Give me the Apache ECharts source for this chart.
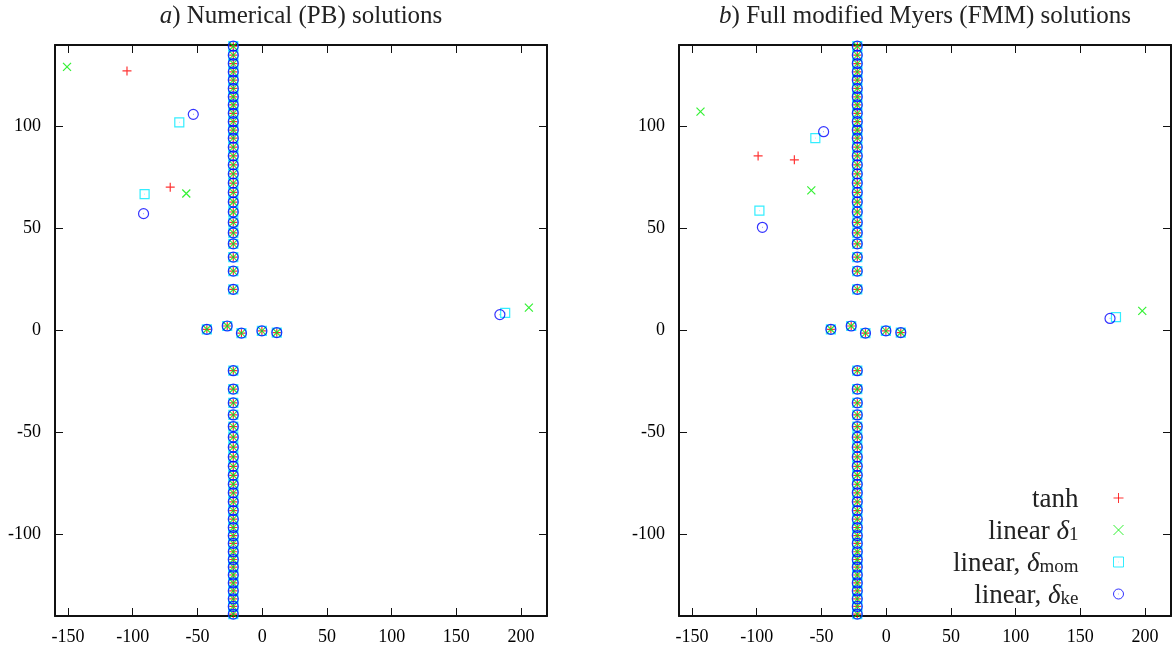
<!DOCTYPE html>
<html>
<head>
<meta charset="utf-8">
<script src="https://cdn.jsdelivr.net/npm/echarts@6/dist/echarts.min.js"></script>
<style>
html,body{margin:0;padding:0;background:#fff;}
#chart{width:1174px;height:654px;}
</style>
</head>
<body>
<div id="chart"></div>
<script>
// ---- data ----
const xTickValues = [-150, -100, -50, 0, 50, 100, 150, 200];
const yTickValues = [-100, -50, 0, 50, 100];
const seriesNames = ['tanh', 'linear δ1', 'linear, δmom', 'linear, δke'];
const panelTitles = ['Numerical (PB) solutions', 'Full modified Myers (FMM) solutions'];
const panelLetters = ['a', 'b'];

// vertical column of roots shared by all four models (x ≈ -22)
const columnX = -22.3;
const columnY = [20.2, 29.1, 36, 42.5, 47.9, 53, 58.1, 63, 67.7, 72.3, 76.8, 81.2, 85.6, 89.9,
  94.3, 98.3, 102.4, 106.5, 110.6, 114.6, 118.7, 122.8, 126.8, 130.9, 135, 139.4,
  -19.7, -28.7, -35.5, -41.4, -47.1, -52.3, -57.2, -62, -66.6, -71, -75.4, -79.6, -84,
  -88.3, -92.5, -96.6, -100.6, -104.4, -108.5, -112.3, -116, -119.9, -123.8, -127.7,
  -131.6, -135.3, -139.1];
// roots close to the real axis shared by all models
const nearAxis = [[-42.7, 0.6], [-27, 2.2], [-16, -1.3], [-0.2, -0.2], [11.3, -1]];

// panel a) outliers
const pbTanh = [[-104.4, 127.3], [-71, 70.3]];
const pbLinD1 = [[-150.7, 129.3], [-58.6, 67.2], [206, 11.2]];
const pbLinMom = [[-64, 102.1], [-90.8, 66.9], [187.7, 8.6]];
const pbLinKe = [[-53.2, 106], [-91.6, 57.3], [183.6, 7.8]];
// panel b) outliers
const fmmTanh = [[-98.9, 85.6], [-70.9, 83.7]];
const fmmLinD1 = [[-143.4, 107.3], [-57.8, 68.7], [197.8, 9.6]];
const fmmLinMom = [[-54.7, 94.3], [-97.9, 58.8], [177.5, 6.6]];
const fmmLinKe = [[-48.3, 97.5], [-95.6, 50.6], [172.9, 5.9]];

// ---- styling ----
const FONT = 'Liberation Serif';
const colors = ['#ff0000', '#00ee00', '#00e8ff', '#0000ff'];
const symbols = [
  'path://M5,0L5,10M0,5L10,5',
  'path://M0,0L10,10M10,0L0,10',
  'path://M0,0L10,0L10,10L0,10ZM4.8,5L5.2,5',
  'path://M0,5A5,5 0 1,0 10,5A5,5 0 1,0 0,5ZM4.8,5L5.2,5'
];
const sizes = [9, 8, 9, 10];

const columnPts = columnY.map(y => [columnX, y]);
const shared = columnPts.concat(nearAxis);
const panelData = [
  [pbTanh, pbLinD1, pbLinMom, pbLinKe],
  [fmmTanh, fmmLinD1, fmmLinMom, fmmLinKe]
];

const grids = [
  {left: 55, top: 45, width: 492, height: 571},
  {left: 679, top: 45, width: 492, height: 571}
];

function xAx(gi, pos, showLabels) {
  return {
    type: 'value', gridIndex: gi, position: pos, min: -160, max: 220,
    axisLine: {show: true, onZero: false, lineStyle: {color: '#111', width: 2}},
    axisTick: {show: true, inside: true, length: 8, customValues: xTickValues, lineStyle: {color: '#111', width: 1}},
    axisLabel: {show: showLabels, customValues: xTickValues, margin: 12, fontSize: 18, color: '#000', fontFamily: FONT},
    splitLine: {show: false}
  };
}
function yAx(gi, pos, showLabels) {
  return {
    type: 'value', gridIndex: gi, position: pos, min: -140, max: 140,
    axisLine: {show: true, onZero: false, lineStyle: {color: '#111', width: 2}},
    axisTick: {show: true, inside: true, length: 8, customValues: yTickValues, lineStyle: {color: '#111', width: 1}},
    axisLabel: {show: showLabels, customValues: yTickValues, margin: 14, fontSize: 18, color: '#000', fontFamily: FONT},
    splitLine: {show: false}
  };
}

const series = [];
for (let p = 0; p < 2; p++) {
  for (let s = 0; s < 4; s++) {
    series.push({
      type: 'scatter', name: seriesNames[s],
      xAxisIndex: p * 2, yAxisIndex: p * 2,
      data: shared.concat(panelData[p][s]),
      symbol: symbols[s], symbolSize: sizes[s],
      itemStyle: {color: 'rgba(0,0,0,0)', borderColor: colors[s], borderWidth: 1.2},
      silent: true, animation: false
    });
  }
}

const legendRich = {
  t: {fontSize: 27, fontFamily: FONT, color: '#222', lineHeight: 30, verticalAlign: 'bottom'},
  g: {fontSize: 27, fontFamily: FONT, fontStyle: 'italic', color: '#222', lineHeight: 30, verticalAlign: 'bottom'},
  s: {fontSize: 19, fontFamily: FONT, color: '#222', lineHeight: 22, verticalAlign: 'bottom'}
};
function legendFmt(name) {
  if (name === seriesNames[0]) return '{t|tanh}';
  if (name === seriesNames[1]) return '{t|linear }{g|δ}{s|1}';
  if (name === seriesNames[2]) return '{t|linear, }{g|δ}{s|mom}';
  return '{t|linear, }{g|δ}{s|ke}';
}

const titleGraphics = panelTitles.map((t, i) => ({
  type: 'text',
  x: grids[i].left + grids[i].width / 2,
  y: 16,
  silent: true,
  style: {
    text: '{i|' + panelLetters[i] + '}{n|) ' + t + '}',
    align: 'center', verticalAlign: 'middle',
    rich: {
      i: {fontSize: 25, fontFamily: FONT, fontStyle: 'italic', fill: '#222'},
      n: {fontSize: 25, fontFamily: FONT, fill: '#222'}
    }
  }
}));

const chart = echarts.init(document.getElementById('chart'), null, {renderer: 'canvas'});
chart.setOption({
  animation: false,
  backgroundColor: '#fff',
  textStyle: {fontFamily: FONT},
  grid: grids.map(g => Object.assign({containLabel: false, outerBoundsMode: 'none'}, g)),
  xAxis: [xAx(0, 'bottom', true), xAx(0, 'top', false), xAx(1, 'bottom', true), xAx(1, 'top', false)],
  yAxis: [yAx(0, 'left', true), yAx(0, 'right', false), yAx(1, 'left', true), yAx(1, 'right', false)],
  legend: {
    data: seriesNames,
    orient: 'vertical', align: 'right',
    right: 45, top: 481,
    itemWidth: 70, itemHeight: 10, itemGap: 5,
    selectedMode: false,
    itemStyle: {borderWidth: 1},
    formatter: legendFmt,
    textStyle: {rich: legendRich, fontFamily: FONT, fontSize: 27, color: '#222'}
  },
  graphic: titleGraphics,
  series: series
});
</script>
</body>
</html>
